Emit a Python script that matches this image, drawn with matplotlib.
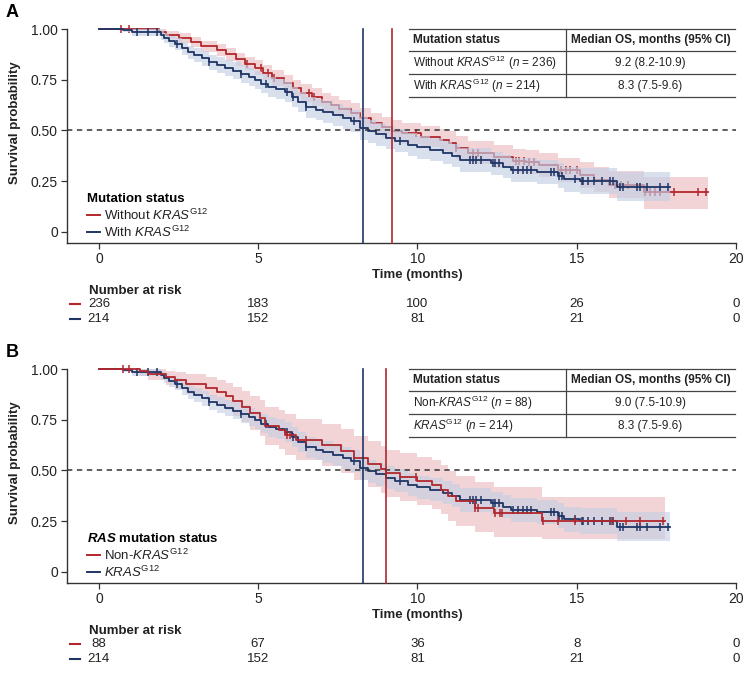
import numpy as np
import matplotlib
matplotlib.use('Agg')
import matplotlib.pyplot as plt
from matplotlib import font_manager
from matplotlib.lines import Line2D
from matplotlib.transforms import blended_transform_factory

# polices
names = {f.name for f in font_manager.fontManager.ttflist}
narrow = 'Liberation Sans Narrow' if 'Liberation Sans Narrow' in names else 'Liberation Sans'
plt.rcParams['font.family'] = ['Liberation Sans', 'DejaVu Sans']
plt.rcParams['mathtext.fontset'] = 'custom'
plt.rcParams['mathtext.rm'] = 'Liberation Sans'
plt.rcParams['mathtext.it'] = 'Liberation Sans:italic'
plt.rcParams['mathtext.bf'] = 'Liberation Sans:bold'
try:
    plt.rcParams['mathtext.bfit'] = 'Liberation Sans:italic:bold'
    bfit = r'$\mathbfit{RAS}$'
except KeyError:
    bfit = r'$\mathit{RAS}$'

RED = '#b2272d'
BLUE = '#1f3566'
RED_BAND = '#f2d4d7'
BLUE_BAND = '#c3cee4'

# ---- KRAS G12 (n = 214), identique en A et B ----
blue_t = [0, 0.75, 1.05, 1.95, 2.05, 2.2, 2.4, 2.6, 2.8, 3.0, 3.25, 3.45, 3.7, 3.95,
          4.2, 4.45, 4.7, 4.9, 5.1, 5.3, 5.55, 5.85, 6.05, 6.25, 6.5, 6.8, 7.05,
          7.35, 7.65, 7.9, 8.2, 8.45, 8.7, 9.0, 9.3, 9.7, 10.0, 10.4, 10.8, 11.1,
          11.35, 12.3, 12.7, 12.95, 13.75, 14.4, 14.6, 15.1, 16.25]
blue_s = [1.0, 0.995, 0.985, 0.97, 0.955, 0.94, 0.925, 0.905, 0.885, 0.87, 0.855,
          0.835, 0.822, 0.808, 0.795, 0.78, 0.765, 0.748, 0.73, 0.715, 0.703, 0.69,
          0.665, 0.64, 0.615, 0.603, 0.59, 0.575, 0.56, 0.545, 0.51, 0.495, 0.48,
          0.465, 0.45, 0.43, 0.418, 0.405, 0.39, 0.375, 0.355, 0.338, 0.322, 0.305,
          0.297, 0.277, 0.26, 0.251, 0.223]
blue_lo = [1.0, 0.985, 0.968, 0.948, 0.93, 0.913, 0.896, 0.874, 0.852, 0.835, 0.818,
           0.797, 0.782, 0.767, 0.752, 0.736, 0.72, 0.702, 0.683, 0.667, 0.654, 0.641,
           0.615, 0.589, 0.563, 0.55, 0.537, 0.521, 0.506, 0.49, 0.455, 0.44, 0.425,
           0.409, 0.394, 0.374, 0.361, 0.348, 0.333, 0.318, 0.297, 0.28, 0.264, 0.246,
           0.238, 0.217, 0.198, 0.188, 0.15]
blue_hi = [1.0, 1.0, 1.0, 0.99, 0.98, 0.967, 0.954, 0.936, 0.918, 0.904, 0.891,
           0.873, 0.862, 0.849, 0.838, 0.824, 0.81, 0.794, 0.777, 0.763, 0.752, 0.739,
           0.715, 0.691, 0.667, 0.656, 0.643, 0.629, 0.614, 0.6, 0.565, 0.55, 0.535,
           0.521, 0.506, 0.486, 0.475, 0.462, 0.447, 0.432, 0.413, 0.396, 0.38, 0.364,
           0.356, 0.337, 0.322, 0.314, 0.297]
blue_end = 17.93
blue_cens = [1.2, 1.55, 1.83, 2.45, 3.46, 4.46, 5.26, 5.9, 6.1, 6.51, 8.0, 9.45,
             11.65, 11.75, 11.85, 12.0, 12.36, 12.45, 12.55, 13.0, 13.15, 13.3,
             13.45, 13.55, 14.2, 14.3, 14.45, 14.55, 14.95, 15.15, 15.2, 15.35,
             15.55, 15.8, 16.05, 16.15, 16.35, 16.45, 16.9, 17.0, 17.2, 17.6, 17.85]

# ---- A : sans KRAS G12 (n = 236) ----
redA_t = [0, 1.9, 2.1, 2.5, 2.9, 3.2, 3.7, 4.0, 4.3, 4.6, 4.9, 5.15, 5.45, 5.8, 6.1,
          6.35, 6.7, 7.0, 7.3, 7.55, 7.9, 8.2, 8.55, 8.9, 9.2, 9.5, 10.1, 10.7, 11.0,
          11.2, 11.6, 12.4, 13.0, 13.4, 13.8, 14.4, 15.1, 15.55, 16.0, 17.1]
redA_s = [1.0, 0.985, 0.97, 0.955, 0.935, 0.916, 0.897, 0.875, 0.85, 0.83, 0.81,
          0.785, 0.76, 0.735, 0.71, 0.685, 0.665, 0.64, 0.625, 0.605, 0.585, 0.56,
          0.535, 0.515, 0.498, 0.485, 0.47, 0.455, 0.44, 0.415, 0.39, 0.37, 0.35,
          0.345, 0.33, 0.305, 0.28, 0.257, 0.232, 0.195]
redA_lo = [1.0, 0.97, 0.95, 0.932, 0.91, 0.889, 0.868, 0.844, 0.817, 0.796, 0.774,
           0.748, 0.721, 0.695, 0.669, 0.642, 0.621, 0.595, 0.579, 0.558, 0.537,
           0.511, 0.485, 0.464, 0.446, 0.432, 0.417, 0.401, 0.385, 0.359, 0.333,
           0.313, 0.292, 0.286, 0.27, 0.244, 0.218, 0.194, 0.166, 0.112]
redA_hi = [1.0, 1.0, 0.99, 0.978, 0.96, 0.943, 0.926, 0.906, 0.883, 0.864, 0.846,
           0.822, 0.799, 0.775, 0.751, 0.728, 0.709, 0.685, 0.671, 0.652, 0.633,
           0.609, 0.585, 0.566, 0.55, 0.538, 0.523, 0.509, 0.495, 0.471, 0.447,
           0.427, 0.408, 0.404, 0.39, 0.366, 0.342, 0.32, 0.298, 0.272]
redA_end = 19.13
redA_cens = [0.7, 0.95, 4.65, 5.1, 5.3, 5.5, 6.6, 6.75, 9.95, 11.2, 11.75, 11.9,
             13.1, 13.2, 13.35, 13.5, 13.65, 14.5, 14.65, 14.8, 15.0, 16.2, 16.4,
             16.6, 17.15, 17.3, 17.45, 17.6, 18.05, 18.8, 19.05]

# ---- B : non-KRAS G12 (n = 88) ----
redB_t = [0, 1.3, 1.55, 2.1, 2.4, 2.75, 3.35, 3.7, 4.0, 4.2, 4.5, 4.75, 5.05, 5.2,
          5.65, 5.85, 6.2, 7.0, 7.6, 8.0, 8.45, 8.85, 9.0, 9.45, 10.0, 10.45, 10.75,
          10.95, 11.2, 11.8, 12.4, 13.9]
redB_s = [1.0, 0.988, 0.976, 0.96, 0.947, 0.927, 0.905, 0.888, 0.865, 0.84, 0.815,
          0.783, 0.758, 0.717, 0.7, 0.677, 0.652, 0.625, 0.595, 0.562, 0.53, 0.505,
          0.485, 0.467, 0.446, 0.43, 0.405, 0.372, 0.347, 0.315, 0.29, 0.253]
redB_lo = [1.0, 0.965, 0.945, 0.92, 0.902, 0.876, 0.848, 0.827, 0.798, 0.768, 0.738,
           0.7, 0.671, 0.624, 0.604, 0.578, 0.55, 0.52, 0.487, 0.452, 0.417, 0.39,
           0.369, 0.35, 0.328, 0.311, 0.285, 0.251, 0.226, 0.195, 0.17, 0.16]
redB_hi = [1.0, 1.0, 1.0, 0.99, 0.985, 0.975, 0.96, 0.948, 0.93, 0.912, 0.892, 0.865,
           0.845, 0.812, 0.797, 0.776, 0.754, 0.73, 0.703, 0.672, 0.643, 0.62, 0.601,
           0.585, 0.565, 0.55, 0.526, 0.495, 0.472, 0.442, 0.418, 0.37]
redB_end = 17.77
redB_cens = [0.75, 0.95, 5.9, 6.0, 6.5, 9.95, 11.82, 11.9, 12.45, 12.6, 12.65,
             13.95, 14.4, 14.95, 16.1, 16.55, 17.0, 17.72]

# nombres à risque
risk_times = [0, 5, 10, 15, 20]
riskA_red = [236, 183, 100, 26, 0]
riskA_blue = [214, 152, 81, 21, 0]
riskB_red = [88, 67, 36, 8, 0]
riskB_blue = [214, 152, 81, 21, 0]

# tableau des médianes
tabA_rows = [r'Without $\mathit{KRAS}^{\mathrm{G12}}$ ($\mathit{n}$ = 236)',
             r'With $\mathit{KRAS}^{\mathrm{G12}}$ ($\mathit{n}$ = 214)']
tabA_vals = ['9.2 (8.2-10.9)', '8.3 (7.5-9.6)']
tabB_rows = [r'Non-$\mathit{KRAS}^{\mathrm{G12}}$ ($\mathit{n}$ = 88)',
             r'$\mathit{KRAS}^{\mathrm{G12}}$ ($\mathit{n}$ = 214)']
tabB_vals = ['9.0 (7.5-10.9)', '8.3 (7.5-9.6)']
medA = [9.2, 8.3]
medB = [9.0, 8.3]


def km(ax, t, s, end, cens, color, z):
    x = list(t) + [end]
    y = list(s) + [s[-1]]
    ax.step(x, y, where='post', color=color, lw=1.3, zorder=z, clip_on=False)
    t = np.array(t)
    cy = [s[np.searchsorted(t, c, side='right') - 1] for c in cens]
    ax.plot(cens, cy, ls='none', marker='|', ms=6, mew=1.1, color=color,
            zorder=z, clip_on=False)


def band(ax, t, lo, hi, end, color, z, alpha=1.0):
    x = list(t) + [end]
    ax.fill_between(x, list(lo) + [lo[-1]], list(hi) + [hi[-1]], step='post',
                    color=color, lw=0, alpha=alpha, zorder=z)


def panel(ax, letter, meds, rows, vals, leg_title, leg_labels, red, rr, rb, fy):
    ax.set_xlim(-1, 20)
    ax.set_ylim(-0.055, 1.0)
    for sp_ in ['top', 'right']:
        ax.spines[sp_].set_visible(False)
    for sp_ in ['left', 'bottom']:
        ax.spines[sp_].set_color('#333333')
        ax.spines[sp_].set_linewidth(1.0)
    ax.set_xticks([0, 5, 10, 15, 20])
    ax.set_yticks([0, 0.25, 0.5, 0.75, 1.0])
    ax.set_yticklabels(['0', '0.25', '0.50', '0.75', '1.00'])
    ax.tick_params(labelsize=10, length=4, width=0.9, color='#333333',
                   labelcolor='#222222', pad=2.5)

    rt, rs, rlo, rhi, rend, rc = red
    band(ax, rt, rlo, rhi, rend, RED_BAND, 1)
    if letter == 'A':
        km(ax, rt, rs, rend, rc, RED, 2)
        band(ax, blue_t, blue_lo, blue_hi, blue_end, BLUE_BAND, 3, 0.65)
        km(ax, blue_t, blue_s, blue_end, blue_cens, BLUE, 4)
    else:
        band(ax, blue_t, blue_lo, blue_hi, blue_end, BLUE_BAND, 2, 0.6)
        km(ax, blue_t, blue_s, blue_end, blue_cens, BLUE, 3)
        km(ax, rt, rs, rend, rc, RED, 4)

    ax.plot([-1, 20], [0.5, 0.5], color='#333333', lw=1.1, dashes=(3.5, 3),
            zorder=5, clip_on=False)
    ax.plot([meds[0]] * 2, [-0.055, 1.0], color=RED, lw=1.2, zorder=6, clip_on=False)
    ax.plot([meds[1]] * 2, [-0.055, 1.0], color=BLUE, lw=1.2, zorder=6, clip_on=False)

    # tableau
    tl, tm, tr = 9.75, 14.66, 19.97
    for yy in [1.0, 0.892, 0.778, 0.665]:
        ax.plot([tl, tr], [yy, yy], color='#444444', lw=0.9, zorder=7, clip_on=False)
    ax.plot([tm, tm], [0.665, 1.0], color='#444444', lw=0.9, zorder=7, clip_on=False)
    ax.text(tl + 0.1, 0.946, 'Mutation status', fontsize=8.5, fontweight='bold',
            va='center', color='#222222', zorder=8)
    ax.text((tm + tr) / 2, 0.946, 'Median OS, months (95% CI)', fontsize=8.5,
            fontweight='bold', va='center', ha='center', color='#222222', zorder=8)
    for yy, lab, v in zip([0.833, 0.719], rows, vals):
        ax.text(tl + 0.1, yy, lab, fontsize=8.5, va='center', color='#222222', zorder=8)
        ax.text((tm + tr) / 2, yy, v, fontsize=8.5, va='center', ha='center',
                color='#222222', zorder=8)

    # légende
    handles = [Line2D([], [], color=RED, lw=1.4), Line2D([], [], color=BLUE, lw=1.4)]
    leg = ax.legend(handles, leg_labels, title=leg_title, loc='lower left',
                    bbox_to_anchor=(0.03, 0.015), frameon=False, alignment='left',
                    handlelength=1.0, handletextpad=0.3, labelspacing=0.15,
                    borderpad=0, borderaxespad=0, fontsize=9.5,
                    title_fontproperties={'weight': 'bold', 'size': 9.5})
    for txt in leg.get_texts():
        txt.set_color('#222222')

    # étiquettes
    fig.text(0.008, fy['letter'], letter, fontsize=13, fontweight='bold', va='center')
    fig.text(0.02, fy['ylab'], 'Survival probability', rotation=90, fontsize=9.5,
             fontweight='bold', va='center', ha='center', color='#222222')
    tr_ = blended_transform_factory(ax.transData, fig.transFigure)
    ax.text(10, fy['xlab'], 'Time (months)', transform=tr_, fontsize=9.5,
            fontweight='bold', ha='center', va='center', color='#222222')
    ax.text(-0.32, fy['nar'], 'Number at risk', transform=tr_, fontsize=9.5,
            fontweight='bold', va='center', family=narrow, color='#222222')
    for yy, vals_, col in [(fy['r1'], rr, RED), (fy['r2'], rb, BLUE)]:
        ax.plot([-0.9, -0.6], [yy, yy], transform=tr_, color=col, lw=1.5, clip_on=False)
        for tx, n in zip(risk_times, vals_):
            ax.text(tx, yy, str(n), transform=tr_, fontsize=9.5, ha='center',
                    va='center', family=narrow, color='#222222')


fig = plt.figure(figsize=(7.43, 6.75), dpi=100)
axA = fig.add_axes([0.0902, 0.64, 0.9004, 0.317])
axB = fig.add_axes([0.0902, 0.1363, 0.9004, 0.317])

panel(axA, 'A', medA, tabA_rows, tabA_vals, 'Mutation status',
      [r'Without $\mathit{KRAS}^{\mathrm{G12}}$', r'With $\mathit{KRAS}^{\mathrm{G12}}$'],
      (redA_t, redA_s, redA_lo, redA_hi, redA_end, redA_cens),
      riskA_red, riskA_blue,
      {'letter': 0.982, 'ylab': 0.818, 'xlab': 0.5926, 'nar': 0.5689,
       'r1': 0.5496, 'r2': 0.5274})
panel(axB, 'B', medB, tabB_rows, tabB_vals, bfit + ' mutation status',
      [r'Non-$\mathit{KRAS}^{\mathrm{G12}}$', r'$\mathit{KRAS}^{\mathrm{G12}}$'],
      (redB_t, redB_s, redB_lo, redB_hi, redB_end, redB_cens),
      riskB_red, riskB_blue,
      {'letter': 0.478, 'ylab': 0.314, 'xlab': 0.0889, 'nar': 0.0652,
       'r1': 0.0459, 'r2': 0.0237})

fig.savefig('out.png', dpi=100)
